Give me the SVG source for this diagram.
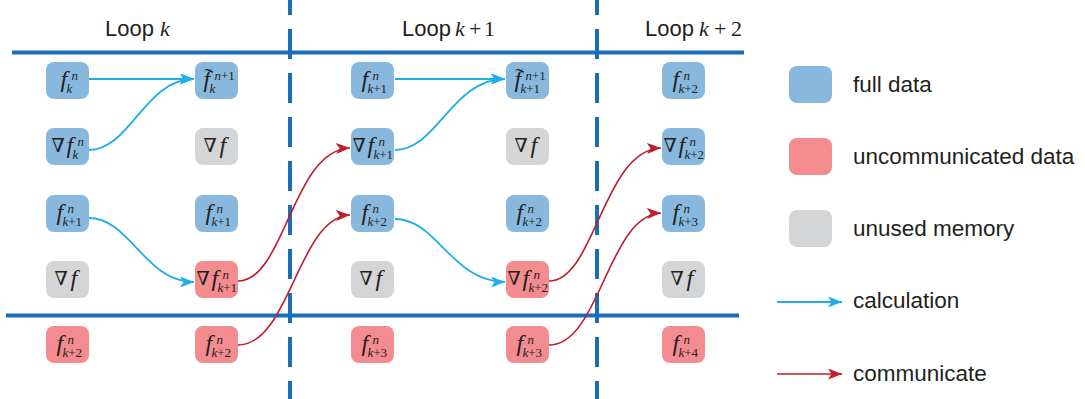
<svg xmlns="http://www.w3.org/2000/svg" width="1085" height="399" viewBox="0 0 1085 399">
<style>
.bl{fill:#88b8dd}.rd{fill:#f48b8f}.gy{fill:#d4d5d7}
.m{font-family:"Liberation Serif","DejaVu Serif","Times New Roman",serif;fill:#231f20}
.f{font-style:italic;font-size:24px}
.s{font-size:13px;font-style:normal}
.i{font-style:italic}
.nb{font-family:"DejaVu Serif",serif;font-size:19px;font-style:normal}
.td{font-size:22px;font-style:normal}
.hd{font-family:"Liberation Sans",Arial,sans-serif;font-size:22px;fill:#231f20}
.hm{font-family:"Liberation Serif","Times New Roman",serif;font-size:22px;fill:#231f20}
.lg{font-family:"Liberation Sans",Arial,sans-serif;font-size:22.5px;fill:#231f20}
.grid{stroke:#1a6eb5;stroke-width:4;fill:none}
.dash{stroke:#1a6eb5;stroke-width:4;fill:none;stroke-dasharray:30 14;stroke-dashoffset:15}
.calc{stroke:#1eaee8;stroke-width:1.8;fill:none;marker-end:url(#ac)}
.comm{stroke:#be1e2d;stroke-width:1.6;fill:none;marker-end:url(#ar)}
</style>
<defs>
<marker id="ac" markerUnits="userSpaceOnUse" markerWidth="16" markerHeight="12" refX="14" refY="5.5" orient="auto"><path d="M0,0 L14,5.5 L0,11 L3.5,5.5 Z" fill="#1eaee8"/></marker>
<marker id="ar" markerUnits="userSpaceOnUse" markerWidth="16" markerHeight="12" refX="14" refY="5.5" orient="auto"><path d="M0,0 L14,5.5 L0,11 L3.5,5.5 Z" fill="#be1e2d"/></marker>
<rect id="box" x="-21.5" y="-18.5" width="43" height="37" rx="8"/>
</defs>
<rect width="1085" height="399" fill="#ffffff"/>

<!-- headers -->
<g id="headers">
<text class="hd" x="105" y="36">Loop <tspan class="hm" font-style="italic">k</tspan></text>
<text class="hd" x="402" y="36">Loop<tspan class="hm" x="455" font-style="italic">k</tspan><tspan class="hm" x="469">+</tspan><tspan class="hm" x="484">1</tspan></text>
<text class="hd" x="645" y="36">Loop<tspan class="hm" x="699" font-style="italic">k</tspan><tspan class="hm" x="714">+</tspan><tspan class="hm" x="731">2</tspan></text>
</g>

<!-- grid lines -->
<g id="grid">
<line class="grid" x1="12" y1="52.5" x2="744" y2="52.5"/>
<line class="grid" x1="6" y1="315.5" x2="739" y2="315.5"/>
<line class="dash" x1="290" y1="0" x2="290" y2="399"/>
<line class="dash" x1="597" y1="0" x2="597" y2="399"/>
</g>

<!-- column 1 -->
<g id="c1r1" transform="translate(67.5,80.5)"><use href="#box" class="bl"/><text class="m"><tspan class="f" x="-7" y="6.5">f</tspan><tspan class="s i" x="4" y="-1">n</tspan><tspan class="s i" x="-1" y="12">k</tspan></text></g>
<g id="c1r2" transform="translate(67.5,146.5)"><use href="#box" class="bl"/><text class="m"><tspan class="nb" x="-16" y="5.5">∇</tspan><tspan class="f" x="-1" y="6.5">f</tspan><tspan class="s i" x="10" y="-1">n</tspan><tspan class="s i" x="5" y="12">k</tspan></text></g>
<g id="c1r3" transform="translate(67.5,213.5)"><use href="#box" class="bl"/><text class="m"><tspan class="f" x="-11" y="6.5">f</tspan><tspan class="s i" x="0" y="-1">n</tspan><tspan class="s i" x="-5" y="12">k</tspan><tspan class="s">+1</tspan></text></g>
<g id="c1r4" transform="translate(67.5,279.5)"><use href="#box" class="gy"/><text class="m"><tspan class="nb" x="-13" y="5.5">∇</tspan><tspan class="f" x="3" y="6.5">f</tspan></text></g>
<g id="c1r5" transform="translate(67.5,344.5)"><use href="#box" class="rd"/><text class="m"><tspan class="f" x="-11" y="6.5">f</tspan><tspan class="s i" x="0" y="-1">n</tspan><tspan class="s i" x="-5" y="12">k</tspan><tspan class="s">+2</tspan></text></g>

<!-- column 2 -->
<g id="c2r1" transform="translate(216.5,80.5)"><use href="#box" class="bl"/><text class="m"><tspan class="f" x="-13" y="6.5">f</tspan><tspan class="td" x="-12" y="2">˜</tspan><tspan class="s i" x="-2" y="-1">n</tspan><tspan class="s">+1</tspan><tspan class="s i" x="-7" y="12">k</tspan></text></g>
<g id="c2r2" transform="translate(216.5,146.5)"><use href="#box" class="gy"/><text class="m"><tspan class="nb" x="-13" y="5.5">∇</tspan><tspan class="f" x="3" y="6.5">f</tspan></text></g>
<g id="c2r3" transform="translate(216.5,213.5)"><use href="#box" class="bl"/><text class="m"><tspan class="f" x="-11" y="6.5">f</tspan><tspan class="s i" x="0" y="-1">n</tspan><tspan class="s i" x="-5" y="12">k</tspan><tspan class="s">+1</tspan></text></g>
<g id="c2r4" transform="translate(216.5,279.5)"><use href="#box" class="rd"/><text class="m"><tspan class="nb" x="-20" y="5.5">∇</tspan><tspan class="f" x="-5" y="6.5">f</tspan><tspan class="s i" x="6" y="-1">n</tspan><tspan class="s i" x="1" y="12">k</tspan><tspan class="s">+1</tspan></text></g>
<g id="c2r5" transform="translate(216.5,344.5)"><use href="#box" class="rd"/><text class="m"><tspan class="f" x="-11" y="6.5">f</tspan><tspan class="s i" x="0" y="-1">n</tspan><tspan class="s i" x="-5" y="12">k</tspan><tspan class="s">+2</tspan></text></g>

<!-- column 3 -->
<g id="c3r1" transform="translate(372.5,80.5)"><use href="#box" class="bl"/><text class="m"><tspan class="f" x="-11" y="6.5">f</tspan><tspan class="s i" x="0" y="-1">n</tspan><tspan class="s i" x="-5" y="12">k</tspan><tspan class="s">+1</tspan></text></g>
<g id="c3r2" transform="translate(372.5,146.5)"><use href="#box" class="bl"/><text class="m"><tspan class="nb" x="-20" y="5.5">∇</tspan><tspan class="f" x="-5" y="6.5">f</tspan><tspan class="s i" x="6" y="-1">n</tspan><tspan class="s i" x="1" y="12">k</tspan><tspan class="s">+1</tspan></text></g>
<g id="c3r3" transform="translate(372.5,213.5)"><use href="#box" class="bl"/><text class="m"><tspan class="f" x="-11" y="6.5">f</tspan><tspan class="s i" x="0" y="-1">n</tspan><tspan class="s i" x="-5" y="12">k</tspan><tspan class="s">+2</tspan></text></g>
<g id="c3r4" transform="translate(372.5,279.5)"><use href="#box" class="gy"/><text class="m"><tspan class="nb" x="-13" y="5.5">∇</tspan><tspan class="f" x="3" y="6.5">f</tspan></text></g>
<g id="c3r5" transform="translate(372.5,344.5)"><use href="#box" class="rd"/><text class="m"><tspan class="f" x="-11" y="6.5">f</tspan><tspan class="s i" x="0" y="-1">n</tspan><tspan class="s i" x="-5" y="12">k</tspan><tspan class="s">+3</tspan></text></g>

<!-- column 4 -->
<g id="c4r1" transform="translate(527.5,80.5)"><use href="#box" class="bl"/><text class="m"><tspan class="f" x="-13" y="6.5">f</tspan><tspan class="td" x="-12" y="2">˜</tspan><tspan class="s i" x="-2" y="-1">n</tspan><tspan class="s">+1</tspan><tspan class="s i" x="-7" y="12">k</tspan><tspan class="s">+1</tspan></text></g>
<g id="c4r2" transform="translate(527.5,146.5)"><use href="#box" class="gy"/><text class="m"><tspan class="nb" x="-13" y="5.5">∇</tspan><tspan class="f" x="3" y="6.5">f</tspan></text></g>
<g id="c4r3" transform="translate(527.5,213.5)"><use href="#box" class="bl"/><text class="m"><tspan class="f" x="-11" y="6.5">f</tspan><tspan class="s i" x="0" y="-1">n</tspan><tspan class="s i" x="-5" y="12">k</tspan><tspan class="s">+2</tspan></text></g>
<g id="c4r4" transform="translate(527.5,279.5)"><use href="#box" class="rd"/><text class="m"><tspan class="nb" x="-20" y="5.5">∇</tspan><tspan class="f" x="-5" y="6.5">f</tspan><tspan class="s i" x="6" y="-1">n</tspan><tspan class="s i" x="1" y="12">k</tspan><tspan class="s">+2</tspan></text></g>
<g id="c4r5" transform="translate(527.5,344.5)"><use href="#box" class="rd"/><text class="m"><tspan class="f" x="-11" y="6.5">f</tspan><tspan class="s i" x="0" y="-1">n</tspan><tspan class="s i" x="-5" y="12">k</tspan><tspan class="s">+3</tspan></text></g>

<!-- column 5 -->
<g id="c5r1" transform="translate(683.5,80.5)"><use href="#box" class="bl"/><text class="m"><tspan class="f" x="-11" y="6.5">f</tspan><tspan class="s i" x="0" y="-1">n</tspan><tspan class="s i" x="-5" y="12">k</tspan><tspan class="s">+2</tspan></text></g>
<g id="c5r2" transform="translate(683.5,146.5)"><use href="#box" class="bl"/><text class="m"><tspan class="nb" x="-20" y="5.5">∇</tspan><tspan class="f" x="-5" y="6.5">f</tspan><tspan class="s i" x="6" y="-1">n</tspan><tspan class="s i" x="1" y="12">k</tspan><tspan class="s">+2</tspan></text></g>
<g id="c5r3" transform="translate(683.5,213.5)"><use href="#box" class="bl"/><text class="m"><tspan class="f" x="-11" y="6.5">f</tspan><tspan class="s i" x="0" y="-1">n</tspan><tspan class="s i" x="-5" y="12">k</tspan><tspan class="s">+3</tspan></text></g>
<g id="c5r4" transform="translate(683.5,279.5)"><use href="#box" class="gy"/><text class="m"><tspan class="nb" x="-13" y="5.5">∇</tspan><tspan class="f" x="3" y="6.5">f</tspan></text></g>
<g id="c5r5" transform="translate(683.5,344.5)"><use href="#box" class="rd"/><text class="m"><tspan class="f" x="-11" y="6.5">f</tspan><tspan class="s i" x="0" y="-1">n</tspan><tspan class="s i" x="-5" y="12">k</tspan><tspan class="s">+4</tspan></text></g>

<!-- connectors -->
<g id="connectors">
<path class="calc" d="M89,79 L194,79"/>
<path class="calc" d="M89,150 C130,150 145,79 194,79"/>
<path class="calc" d="M89,218 C130,218 145,282 194,282"/>
<path class="calc" d="M395,79 L505,79"/>
<path class="calc" d="M395,150 C437,150 452,79 505,79"/>
<path class="calc" d="M395,219 C437,219 452,282 505,282"/>
<path class="comm" d="M238,281 C285,281 292,150 350,148"/>
<path class="comm" d="M238,345 C290,345 298,217 350,215"/>
<path class="comm" d="M549,281 C595,281 603,150 661,148"/>
<path class="comm" d="M549,345 C600,345 608,215 661,213"/>
</g>

<!-- legend -->
<g id="legend">
<g id="lg-full"><rect x="789" y="66" width="43" height="37" rx="8" class="bl"/><text class="lg" x="853" y="92">full data</text></g>
<g id="lg-unc"><rect x="789" y="138" width="43" height="37" rx="8" class="rd"/><text class="lg" x="853" y="164">uncommunicated data</text></g>
<g id="lg-unused"><rect x="789" y="210" width="43" height="37" rx="8" class="gy"/><text class="lg" x="853" y="236">unused memory</text></g>
<g id="lg-calc"><line class="calc" x1="777" y1="302" x2="842" y2="302"/><text class="lg" x="853" y="308">calculation</text></g>
<g id="lg-comm"><line class="comm" x1="777" y1="374" x2="842" y2="374"/><text class="lg" x="853" y="381">communicate</text></g>
</g>
</svg>
